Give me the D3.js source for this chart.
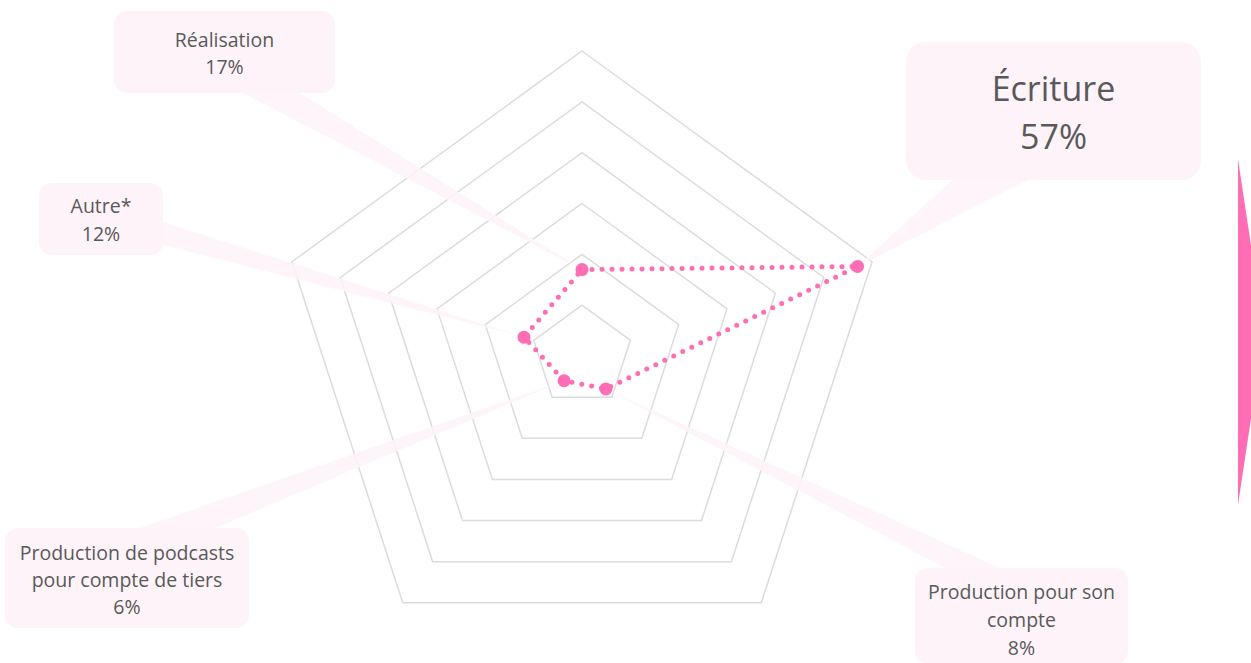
<!DOCTYPE html>
<html>
<head>
<meta charset="utf-8">
<script src="https://cdn.jsdelivr.net/npm/d3@7"></script>
<style>
  body { margin: 0; background: #fff; }
  svg { display: block; }
</style>
</head>
<body>
<svg id="radar" width="1251" height="663"></svg>
<script>
// Axes clockwise from the top, and their values in percent
const categories = ["Réalisation", "Écriture", "Production pour son compte", "Production de podcasts pour compte de tiers", "Autre*"];
const values = [17, 57, 8, 6, 12];
// Lines of text shown in each callout (the last line is the value)
const labelLines = [
    ["Réalisation"],
    ["Écriture"],
    ["Production pour son", "compte"],
    ["Production de podcasts", "pour compte de tiers"],
    ["Autre*"]
];
// Grid rings every 10%
const ringTicks = [10, 20, 30, 40, 50, 60];

// Layout of the callout boxes (x, y, w, h, font size, line height, wedge base points)
const callouts = [
    { x: 114, y: 11, w: 221, h: 82, fs: 19.5, lh: 27, first: 47, base: [[243, 93], [300, 93]] },
    { x: 906, y: 42, w: 295, h: 138, fs: 34, lh: 48, first: 101, base: [[952, 180], [1028, 180]] },
    { x: 915, y: 568, w: 213, h: 96, fs: 19.5, lh: 28, first: 599, base: [[945, 568], [1000, 568]] },
    { x: 5, y: 528, w: 244, h: 100, fs: 19.5, lh: 27, first: 560, base: [[140, 528], [215, 528]] },
    { x: 39, y: 183, w: 124, h: 72, fs: 19.5, lh: 28, first: 213, base: [[163, 222], [163, 245]] }
];

const pink = "#ff6eb4";
const pale = "#fef3f9";
const cx = 582, cy = 356, R = 305;

const svg = d3.select("#radar");
const r = d3.scaleLinear().domain([0, 60]).range([0, R]);
const angle = i => i * 2 * Math.PI / categories.length;
const pt = (i, v) => [cx + r(v) * Math.sin(angle(i)), cy - r(v) * Math.cos(angle(i))];

// grid pentagons
const ring = d3.line().curve(d3.curveLinearClosed);
svg.append("g").selectAll("path")
    .data(ringTicks)
    .enter()
    .append("path")
    .attr("d", t => ring(categories.map((c, i) => pt(i, t))))
    .attr("fill", "none")
    .attr("stroke", "#dcdcdc")
    .attr("stroke-width", 1.5);

// callout wedges pointing at the data points
svg.append("g").selectAll("path")
    .data(callouts)
    .enter()
    .append("path")
    .attr("d", (c, i) => ring([c.base[0], pt(i, values[i]), c.base[1]]))
    .attr("fill", pale)
    .attr("opacity", 0.85);

// callout boxes
const boxes = svg.append("g").selectAll("g")
    .data(callouts)
    .enter()
    .append("g");

boxes.append("rect")
    .attr("x", c => c.x)
    .attr("y", c => c.y)
    .attr("width", c => c.w)
    .attr("height", c => c.h)
    .attr("rx", c => c.fs > 20 ? 20 : 13)
    .attr("fill", pale);

boxes.each(function (c, i) {
    const lines = labelLines[i].concat([values[i] + "%"]);
    d3.select(this).selectAll("text")
        .data(lines)
        .enter()
        .append("text")
        .attr("x", c.x + c.w / 2)
        .attr("y", (d, k) => c.first + k * c.lh)
        .attr("text-anchor", "middle")
        .style("font-family", "'Open Sans', sans-serif")
        .style("font-size", c.fs + "px")
        .style("fill", "#595959")
        .text(d => d);
});

// dotted data line
svg.append("path")
    .attr("d", ring(values.map((v, i) => pt(i, v))))
    .attr("fill", "none")
    .attr("stroke", pink)
    .attr("stroke-width", 5)
    .attr("stroke-linecap", "round")
    .attr("stroke-dasharray", "0 10");

// markers
svg.append("g").selectAll("circle")
    .data(values)
    .enter()
    .append("circle")
    .attr("cx", (v, i) => pt(i, v)[0])
    .attr("cy", (v, i) => pt(i, v)[1])
    .attr("r", 6.5)
    .attr("fill", pink);

// pink shape cut off at the right edge
svg.append("path")
    .attr("d", "M1238,159 L1264,332 L1238,505 Z")
    .attr("fill", pink);
</script>
</body>
</html>
